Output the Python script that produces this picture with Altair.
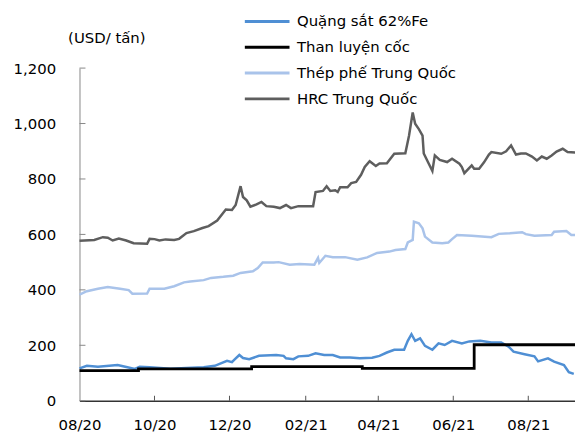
import altair as alt
import pandas as pd

BASE = pd.Timestamp("2020-08-01")

names = ["Quặng sắt 62%Fe", "\u00a0Than luyện cốc", "Thép phế Trung Quốc", "\u00a0HRC Trung Quốc"]
colors = ["#4F8FD4", "#000000", "#A9C3EA", "#5E5E5E"]

# day offsets from 2020-08-01 and values (USD/tấn)
ore_day = [0, 6, 15, 31, 39, 45, 49, 57, 74, 87, 101, 110, 120, 124, 126, 130, 133, 138, 146, 160,
           166, 168, 174, 178, 186, 192, 199, 206, 212, 220, 228, 238, 244, 250, 256, 264, 267, 270,
           273, 277, 281, 287, 292, 297, 303, 311, 317, 326, 335, 343, 349, 353, 362, 370, 373, 381,
           386, 394, 398, 402]
ore_val = [117, 126, 123, 129, 121, 115, 123, 121, 115, 118, 121, 126, 144, 139, 148, 165, 154, 150, 162, 165,
           162, 153, 150, 160, 162, 171, 165, 165, 156, 156, 153, 155, 162, 174, 184, 184, 216, 240,
           216, 225, 198, 184, 207, 201, 216, 207, 214, 216, 210, 210, 195, 177, 168, 160, 142, 153,
           141, 129, 103, 97]

coal_day = [0, 48, 140, 230, 321, 404]
coal_val = [109, 115, 123, 117, 202, 202]

scrap_day = [0, 6, 15, 23, 33, 40, 43, 55, 57, 69, 77, 85, 90, 101, 107, 117, 125, 131, 141, 145,
             149, 158, 162, 171, 179, 191, 194, 195, 200, 206, 216, 226, 234, 242, 252, 257, 265, 267,
             271, 272, 276, 279, 281, 287, 295, 300, 303, 307, 319, 335, 341, 350, 360, 363, 370, 384,
             386, 396, 400, 404]
scrap_val = [383, 395, 404, 410, 404, 399, 386, 387, 404, 404, 413, 427, 430, 435, 443, 447, 451, 461, 467, 479,
             499, 499, 500, 491, 493, 491, 515, 497, 523, 518, 518, 509, 517, 533, 538, 544, 547, 571,
             580, 646, 640, 622, 592, 571, 568, 571, 583, 598, 595, 590, 602, 604, 608, 601, 595, 598,
             610, 612, 598, 598]

hrc_day = [0, 12, 19, 23, 27, 32, 38, 44, 55, 57, 61, 65, 70, 77, 81, 87, 93, 100, 105, 112, 119, 124,
           127, 131, 133, 136, 139, 144, 148, 152, 158, 163, 168, 172, 178, 190, 192, 198, 201, 204,
           208, 210, 212, 218, 221, 225, 229, 232, 236, 241, 244, 250, 256, 265, 268, 271, 273, 276,
           279, 280, 284, 287, 289, 293, 299, 303, 309, 311, 313, 319, 321, 325, 329, 333, 335, 343,
           347, 351, 355, 359, 363, 368, 372, 376, 380, 384, 388, 393, 397, 404]
hrc_val = [577, 580, 590, 588, 578, 585, 578, 568, 566, 584, 583, 578, 582, 580, 584, 605, 612, 623, 630, 650, 690, 688,
           706, 774, 735, 723, 700, 708, 717, 702, 700, 695, 706, 695, 702, 702, 753, 757, 774, 757,
           759, 753, 770, 770, 785, 789, 815, 843, 864, 847, 856, 857, 891, 893, 956, 1040, 999, 980,
           956, 892, 856, 829, 885, 869, 861, 873, 855, 843, 821, 849, 837, 837, 860, 888, 897, 891,
           900, 921, 888, 892, 892, 881, 867, 881, 873, 885, 899, 909, 897, 895]

y_ticks = [0, 200, 400, 600, 800, 1000, 1200]
x_tick_months = [(2020, 8), (2020, 10), (2020, 12), (2021, 2), (2021, 4), (2021, 6), (2021, 8)]


def frame(name, days, vals):
    return pd.DataFrame({"date": BASE + pd.to_timedelta(days, unit="D"), "value": vals, "series": name})


lines_df = pd.concat([frame(names[0], ore_day, ore_val),
                      frame(names[2], scrap_day, scrap_val),
                      frame(names[3], hrc_day, hrc_val)])
coal_df = frame(names[1], coal_day, coal_val)
ytick_df = pd.DataFrame({"value": y_ticks})
xtick_df = pd.DataFrame({"date": [pd.Timestamp(year=y, month=m, day=1) for y, m in x_tick_months[1:]]})

FONT = "DejaVu Sans"
W, H = 499, 335

x_values = [alt.DateTime(year=y, month=m, date=1) for y, m in x_tick_months]
x_enc = alt.X("date:T",
              scale=alt.Scale(domain=[alt.DateTime(year=2020, month=8, date=1),
                                      alt.DateTime(year=2021, month=9, date=8)]),
              axis=alt.Axis(values=x_values, format="%m/%y", title=None, grid=False, tickSize=0,
                            labelPadding=17, labelFlush=False, labelOverlap=False,
                            domainColor="#333333", domainWidth=1.5,
                            labelFontSize=15, labelFont=FONT, labelColor="black"))
y_enc = alt.Y("value:Q",
              scale=alt.Scale(domain=[0, 1200]),
              axis=alt.Axis(values=y_ticks, format=",.0f", title="(USD/ tấn)", titleAngle=0,
                            titleAlign="left", titleBaseline="middle", titleX=-12, titleY=-31,
                            titleFontWeight="normal", titleFontSize=15, titleFont=FONT,
                            titleColor="black", tickSize=0, labelPadding=24, domainColor="#888888",
                            grid=False, labelFontSize=15, labelFont=FONT, labelColor="black"))
color_enc = alt.Color("series:N",
                      scale=alt.Scale(domain=names, range=colors),
                      legend=alt.Legend(title=None, orient="none", legendX=165, legendY=-56,
                                        symbolType="stroke", symbolSize=2025, symbolStrokeWidth=3,
                                        labelFontSize=15, labelFont=FONT, labelColor="black",
                                        labelLimit=400, labelOffset=6, clipHeight=18,
                                        rowPadding=8))

base_lines = alt.Chart(lines_df).mark_line(strokeWidth=2.5).encode(
    x=x_enc, y=y_enc, color=color_enc, detail="series:N")
coal = alt.Chart(coal_df).mark_line(strokeWidth=2.8, interpolate="step-after").encode(
    x="date:T", y="value:Q", color="series:N")
yt = alt.Chart(ytick_df).mark_rule(color="#888888", strokeWidth=1).encode(
    y="value:Q", x=alt.value(0), x2=alt.value(6))
xt = alt.Chart(xtick_df).mark_rule(color="#555555", strokeWidth=1).encode(
    x="date:T", y=alt.value(H), y2=alt.value(H - 5))

chart = alt.layer(base_lines, coal, yt, xt).properties(
    width=W, height=H,
    autosize=alt.AutoSizeParams(type="none"),
    padding={"left": 72, "top": 59, "right": 0, "bottom": 34},
).configure_view(stroke=None)

chart.save("out.html", embed_options={"renderer": "svg", "actions": False})
